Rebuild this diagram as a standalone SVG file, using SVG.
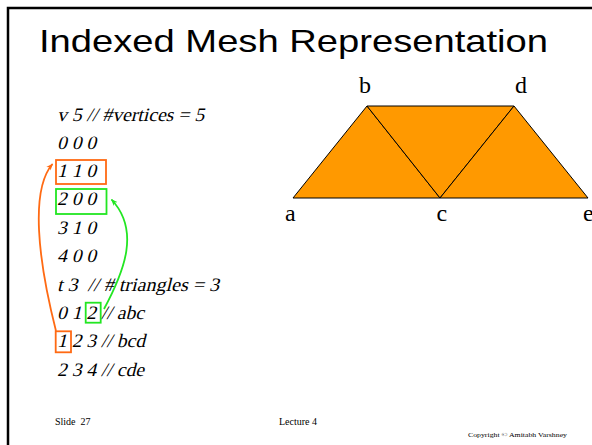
<svg xmlns="http://www.w3.org/2000/svg" width="592" height="445" viewBox="0 0 592 445">
<defs>
<style>
.title{font-family:"Liberation Sans",Arial,sans-serif;font-size:32px;fill:#000}
.code{font-family:"Liberation Serif","Times New Roman",serif;font-size:19px;fill:#000}
.lbl{font-family:"Liberation Serif","Times New Roman",serif;font-size:24px;fill:#000}
.foot{font-family:"Liberation Serif","Times New Roman",serif;font-size:10px;fill:#000}
.copy{font-family:"Liberation Serif","Times New Roman",serif;font-size:7px;fill:#000}
.obox{fill:none;stroke:#FF6A13;stroke-width:1.8}
.gbox{fill:none;stroke:#22E622;stroke-width:1.8}
.tri{fill:#FF9900;stroke:#000;stroke-width:1}
</style>
<marker id="ao" viewBox="0 0 10 10" refX="9" refY="5" markerWidth="7" markerHeight="7" orient="auto" markerUnits="userSpaceOnUse">
<path d="M0,1 L10,5 L0,9 L3,5 Z" fill="#FF6A13"/>
</marker>
<marker id="ag" viewBox="0 0 10 10" refX="9" refY="5" markerWidth="7" markerHeight="7" orient="auto" markerUnits="userSpaceOnUse">
<path d="M0,1 L10,5 L0,9 L3,5 Z" fill="#22E622"/>
</marker>
</defs>
<rect width="592" height="445" fill="#fff"/>
<rect x="8" y="8" width="600" height="460" fill="none" stroke="#000" stroke-width="2.5"/>
<text class="title" x="39" y="52" textLength="509" lengthAdjust="spacingAndGlyphs">Indexed Mesh Representation</text>

<g id="code">
<g transform="translate(57,121) skewX(-14)"><text class="code" x="0" y="0" textLength="147" lengthAdjust="spacingAndGlyphs">v 5 // #vertices = 5</text></g>
<g transform="translate(57,149) skewX(-14)"><text class="code" x="0" y="0" textLength="39" lengthAdjust="spacingAndGlyphs">0 0 0</text></g>
<g transform="translate(57,177) skewX(-14)"><text class="code" x="0" y="0" textLength="39" lengthAdjust="spacingAndGlyphs">1 1 0</text></g>
<g transform="translate(57,205) skewX(-14)"><text class="code" x="0" y="0" textLength="39" lengthAdjust="spacingAndGlyphs">2 0 0</text></g>
<g transform="translate(57,234) skewX(-14)"><text class="code" x="0" y="0" textLength="39" lengthAdjust="spacingAndGlyphs">3 1 0</text></g>
<g transform="translate(57,262) skewX(-14)"><text class="code" x="0" y="0" textLength="39" lengthAdjust="spacingAndGlyphs">4 0 0</text></g>
<g transform="translate(57,291) skewX(-14)"><text class="code" x="0" y="0" textLength="162" lengthAdjust="spacingAndGlyphs" xml:space="preserve">t 3  // # triangles = 3</text></g>
<g transform="translate(57,319) skewX(-14)"><text class="code" x="0" y="0" textLength="87" lengthAdjust="spacingAndGlyphs">0 1 2 // abc</text></g>
<g transform="translate(57,347) skewX(-14)"><text class="code" x="0" y="0" textLength="88" lengthAdjust="spacingAndGlyphs">1 2 3 // bcd</text></g>
<g transform="translate(57,376) skewX(-14)"><text class="code" x="0" y="0" textLength="87" lengthAdjust="spacingAndGlyphs">2 3 4 // cde</text></g>
</g>

<g id="boxes">
<rect class="obox" x="56" y="160" width="50" height="24"/>
<rect class="gbox" x="56" y="189" width="50.5" height="25"/>
<rect class="gbox" x="85.7" y="302.7" width="15" height="20"/>
<rect class="obox" x="55.7" y="331.3" width="15.3" height="21"/>
</g>

<g id="connectors">
<path d="M56,331 C38,260 30,190 52.5,164" fill="none" stroke="#FF6A13" stroke-width="1.8" marker-end="url(#ao)"/>
<path d="M104,309 C125,270 140,230 111.5,199.5" fill="none" stroke="#22E622" stroke-width="1.8" marker-end="url(#ag)"/>
</g>

<g id="mesh">
<polygon class="tri" points="293,198 367,106 440,198"/>
<polygon class="tri" points="367,106 514,106 440,198"/>
<polygon class="tri" points="514,106 588,198 440,198"/>
</g>

<g id="labels">
<text class="lbl" x="359" y="93">b</text>
<text class="lbl" x="515" y="93">d</text>
<text class="lbl" x="285" y="221">a</text>
<text class="lbl" x="436.5" y="221">c</text>
<text class="lbl" x="583" y="221">e</text>
</g>

<g id="footer">
<text class="foot" x="55" y="425" xml:space="preserve">Slide  27</text>
<text class="foot" x="279" y="425">Lecture 4</text>
<text class="copy" x="468" y="437" textLength="99" lengthAdjust="spacingAndGlyphs">Copyright © Amitabh Varshney</text>
</g>
</svg>
